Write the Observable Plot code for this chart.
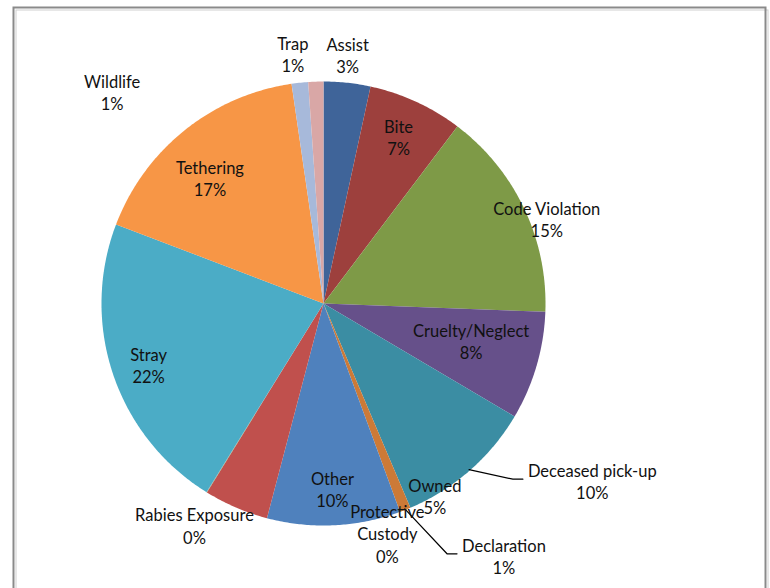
<!DOCTYPE html>
<html>
<head>
<meta charset="utf-8">
<script src="https://cdn.jsdelivr.net/npm/d3@7"></script>
<script src="https://cdn.jsdelivr.net/npm/@observablehq/plot@0.6"></script>
<style>
  html, body { margin: 0; padding: 0; background: #fff; }
  #chart svg { display: block; }
</style>
</head>
<body>
<div id="chart"></div>
<script>
// ---- Data ----
const categories = ["Assist", "Bite", "Code Violation", "Cruelty/Neglect", "Deceased pick-up",
  "Declaration", "Other", "Owned", "Protective Custody", "Rabies Exposure", "Stray",
  "Tethering", "Trap", "Wildlife"];
const shares = [3.4, 6.9, 15.3, 7.9, 10.1, 0.8, 9.7, 4.7, 0.02, 0.02, 21.96, 16.9, 1.2, 1.1];
const labelLines = [["Assist"], ["Bite"], ["Code Violation"], ["Cruelty/Neglect"], ["Deceased pick-up"],
  ["Declaration"], ["Other"], ["Owned"], ["Protective", "Custody"], ["Rabies Exposure"], ["Stray"],
  ["Tethering"], ["Trap"], ["Wildlife"]];
const colors = ["#3F6499", "#9D403D", "#7E9A47", "#66508A", "#3B8DA3", "#CC7A37", "#4F81BD",
  "#C0504D", "#9BBB59", "#8064A2", "#4BACC6", "#F79646", "#A7B9DA", "#D9A7A6"];

// ---- Layout (label placement relative to slice mid-angle) ----
const labelAngleNudge = [-0.5, 0, 5.4, -0.9, -14.8, -13.6, 0, -52.8, -47, -2, -1.7, -4.3, -1, -43.5];
const labelRadius = [1.11, 0.81, 1.07, 0.69, 1.46, 1.41, 0.85, 1.016, 1.09, 1.17, 0.84, 0.75, 1.116, 1.335];
const withLeader = ["Deceased pick-up", "Declaration"];

const W = 770, H = 588;
const cx = 323, cy = 303, R = 222;
const FONT = "Lato, 'Open Sans', sans-serif";
const FS = 16.5;
const TEXT_DY = -3.5;

const total = d3.sum(shares);
const rad = a => a * Math.PI / 180;
const pol = (a, r) => [cx + r * Math.sin(rad(a)), cy - r * Math.cos(rad(a))];

let acc = 0;
const slices = categories.map((name, i) => {
  const a0 = acc / total * 360;
  acc += shares[i];
  const a1 = acc / total * 360;
  return {name, a0, a1, mid: (a0 + a1) / 2, pct: Math.round(shares[i] / total * 100)};
});

const slicePts = slices.flatMap(s => {
  const pts = [{name: s.name, x: cx, y: cy}];
  const n = Math.max(2, Math.ceil((s.a1 - s.a0) / 0.5));
  for (let j = 0; j <= n; j++) {
    const [x, y] = pol(s.a0 + (s.a1 - s.a0) * j / n, R);
    pts.push({name: s.name, x, y});
  }
  return pts;
});

const ctx = document.createElement("canvas").getContext("2d");
ctx.font = `${FS}px Lato`;

const labels = slices.map((s, i) => {
  const [x, y] = pol(s.mid + labelAngleNudge[i], R * labelRadius[i]);
  const lines = [...labelLines[i], s.pct + "%"];
  const w = d3.max(lines, l => ctx.measureText(l).width);
  return {name: s.name, x, y, text: lines.join("\n"), w, mid: s.mid, nLines: lines.length};
});

const leaders = labels.filter(l => withLeader.includes(l.name)).flatMap(l => {
  const [sx, sy] = pol(l.mid, R * 0.995);
  const ex = l.x - l.w / 2 - 5, ey = l.y - 2 + TEXT_DY;
  return [
    {name: l.name, x: sx, y: sy},
    {name: l.name, x: ex - 10, y: ey},
    {name: l.name, x: ex, y: ey}
  ];
});

const chart = Plot.plot({
  width: W,
  height: H,
  margin: 0,
  style: {fontFamily: FONT, background: "#fff"},
  x: {domain: [0, W], range: [0, W], axis: null},
  y: {domain: [0, H], range: [0, H], axis: null},
  color: {domain: categories, range: colors},
  marks: [
    Plot.frame({stroke: "#d0d0d0", strokeWidth: 1, insetLeft: 15.5, insetTop: 9.5, insetRight: 2.5, insetBottom: -10}),
    Plot.frame({stroke: "#8a8a8a", strokeWidth: 2, insetLeft: 13, insetTop: 7, insetRight: 5, insetBottom: -10}),
    Plot.line(slicePts, {x: "x", y: "y", z: "name", fill: "name", stroke: "none", curve: "linear-closed"}),
    Plot.line(leaders, {x: "x", y: "y", z: "name", stroke: "#000", strokeWidth: 1.2, curve: "linear"}),
    Plot.text(labels, {x: "x", y: "y", dy: TEXT_DY, text: "text", fontSize: FS, lineHeight: 1.34, fill: "#111", textAnchor: "middle"})
  ]
});

document.getElementById("chart").appendChild(chart);
</script>
</body>
</html>
